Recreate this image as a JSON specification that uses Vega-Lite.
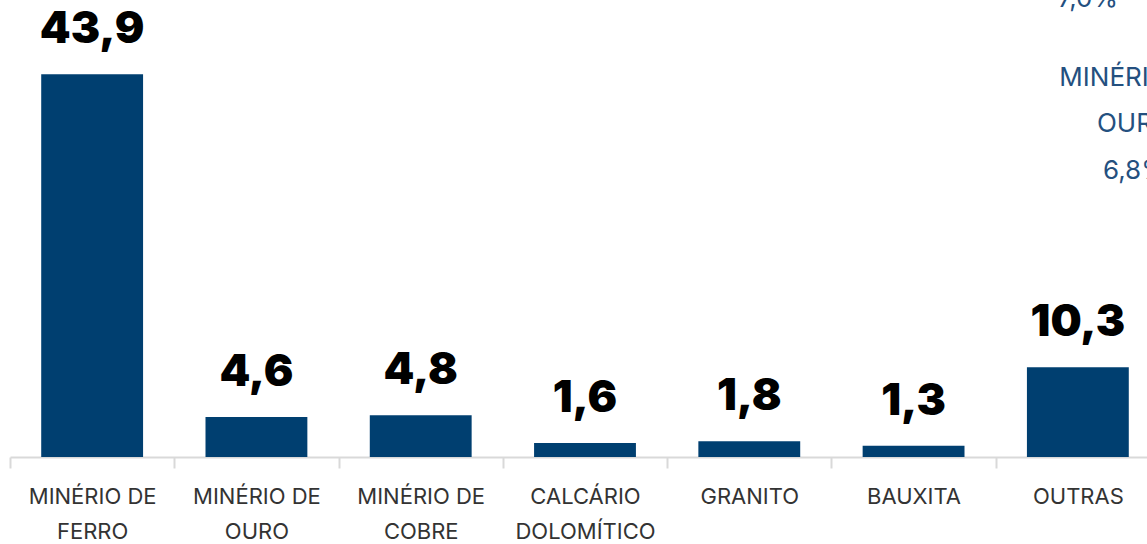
{
  "$schema": "https://vega.github.io/schema/vega-lite/v6.json",
  "width": 1150,
  "height": 436,
  "autosize": {"type": "none"},
  "padding": {"left": 10, "top": 21, "right": 0, "bottom": 87},
  "background": "white",
  "config": {
    "view": {"stroke": null},
    "locale": {"number": {"decimal": ",", "thousands": ".", "grouping": [3], "currency": ["R$", ""]}}
  },
  "layer": [
    {
      "data": {"name": "main", "values": [
        {"categoria": "MINÉRIO DE FERRO", "valor": 43.9},
        {"categoria": "MINÉRIO DE OURO", "valor": 4.6},
        {"categoria": "MINÉRIO DE COBRE", "valor": 4.8},
        {"categoria": "CALCÁRIO DOLOMÍTICO", "valor": 1.6},
        {"categoria": "GRANITO", "valor": 1.8},
        {"categoria": "BAUXITA", "valor": 1.3},
        {"categoria": "OUTRAS", "valor": 10.3}
      ]},
      "layer": [
        {
          "mark": {"type": "bar", "color": "#003f70", "width": {"band": 0.62}},
          "encoding": {
            "x": {
              "field": "categoria", "type": "nominal", "sort": null,
              "scale": {"paddingInner": 0, "paddingOuter": 0},
              "axis": {
                "title": null,
                "labelAngle": 0,
                "labelFont": "Inter",
                "labelFontSize": 22,
                "labelColor": "#333333",
                "labelLineHeight": 35,
                "labelPadding": 18,
                "labelExpr": "indexof(datum.label, 'MINÉRIO DE ') == 0 ? ['MINÉRIO DE', substring(datum.label, 11)] : (datum.label == 'CALCÁRIO DOLOMÍTICO' ? ['CALCÁRIO', 'DOLOMÍTICO'] : datum.label)",
                "domainColor": "#d9d9d9",
                "domainWidth": 2,
                "tickColor": "#d9d9d9",
                "tickWidth": 2,
                "tickSize": 11,
                "tickBand": "extent",
                "labelLimit": 300
              }
            },
            "y": {
              "field": "valor", "type": "quantitative",
              "scale": {"domain": [0, 50], "nice": false},
              "axis": null
            }
          }
        },
        {
          "mark": {"type": "text", "font": "Inter", "fontSize": 44, "fontWeight": 900, "color": "#000000", "baseline": "alphabetic", "dy": -31},
          "encoding": {
            "x": {"field": "categoria", "type": "nominal", "sort": null},
            "y": {"field": "valor", "type": "quantitative"},
            "text": {"field": "valor", "type": "quantitative", "format": ".1f"}
          }
        }
      ]
    },
    {
      "data": {"name": "anotacao_a", "values": [
        {"categoria": "OUTRAS", "pos": 52.5, "texto": "7,0%"}
      ]},
      "mark": {"type": "text", "font": "Inter", "fontSize": 26, "color": "#24507f", "baseline": "middle", "align": "center", "dx": 10},
      "encoding": {
        "x": {"field": "categoria", "type": "nominal", "sort": null},
        "y": {"field": "pos", "type": "quantitative"},
        "text": {"field": "texto"}
      }
    },
    {
      "data": {"name": "anotacao_b", "values": [
        {"categoria": "OUTRAS", "pos": 43.5, "texto": "MINÉRIO DE"},
        {"categoria": "OUTRAS", "pos": 38.2, "texto": "OURO"},
        {"categoria": "OUTRAS", "pos": 32.8, "texto": "6,8%"}
      ]},
      "mark": {"type": "text", "font": "Inter", "fontSize": 26, "color": "#24507f", "baseline": "middle", "align": "center", "dx": 57},
      "encoding": {
        "x": {"field": "categoria", "type": "nominal", "sort": null},
        "y": {"field": "pos", "type": "quantitative"},
        "text": {"field": "texto"}
      }
    }
  ]
}
